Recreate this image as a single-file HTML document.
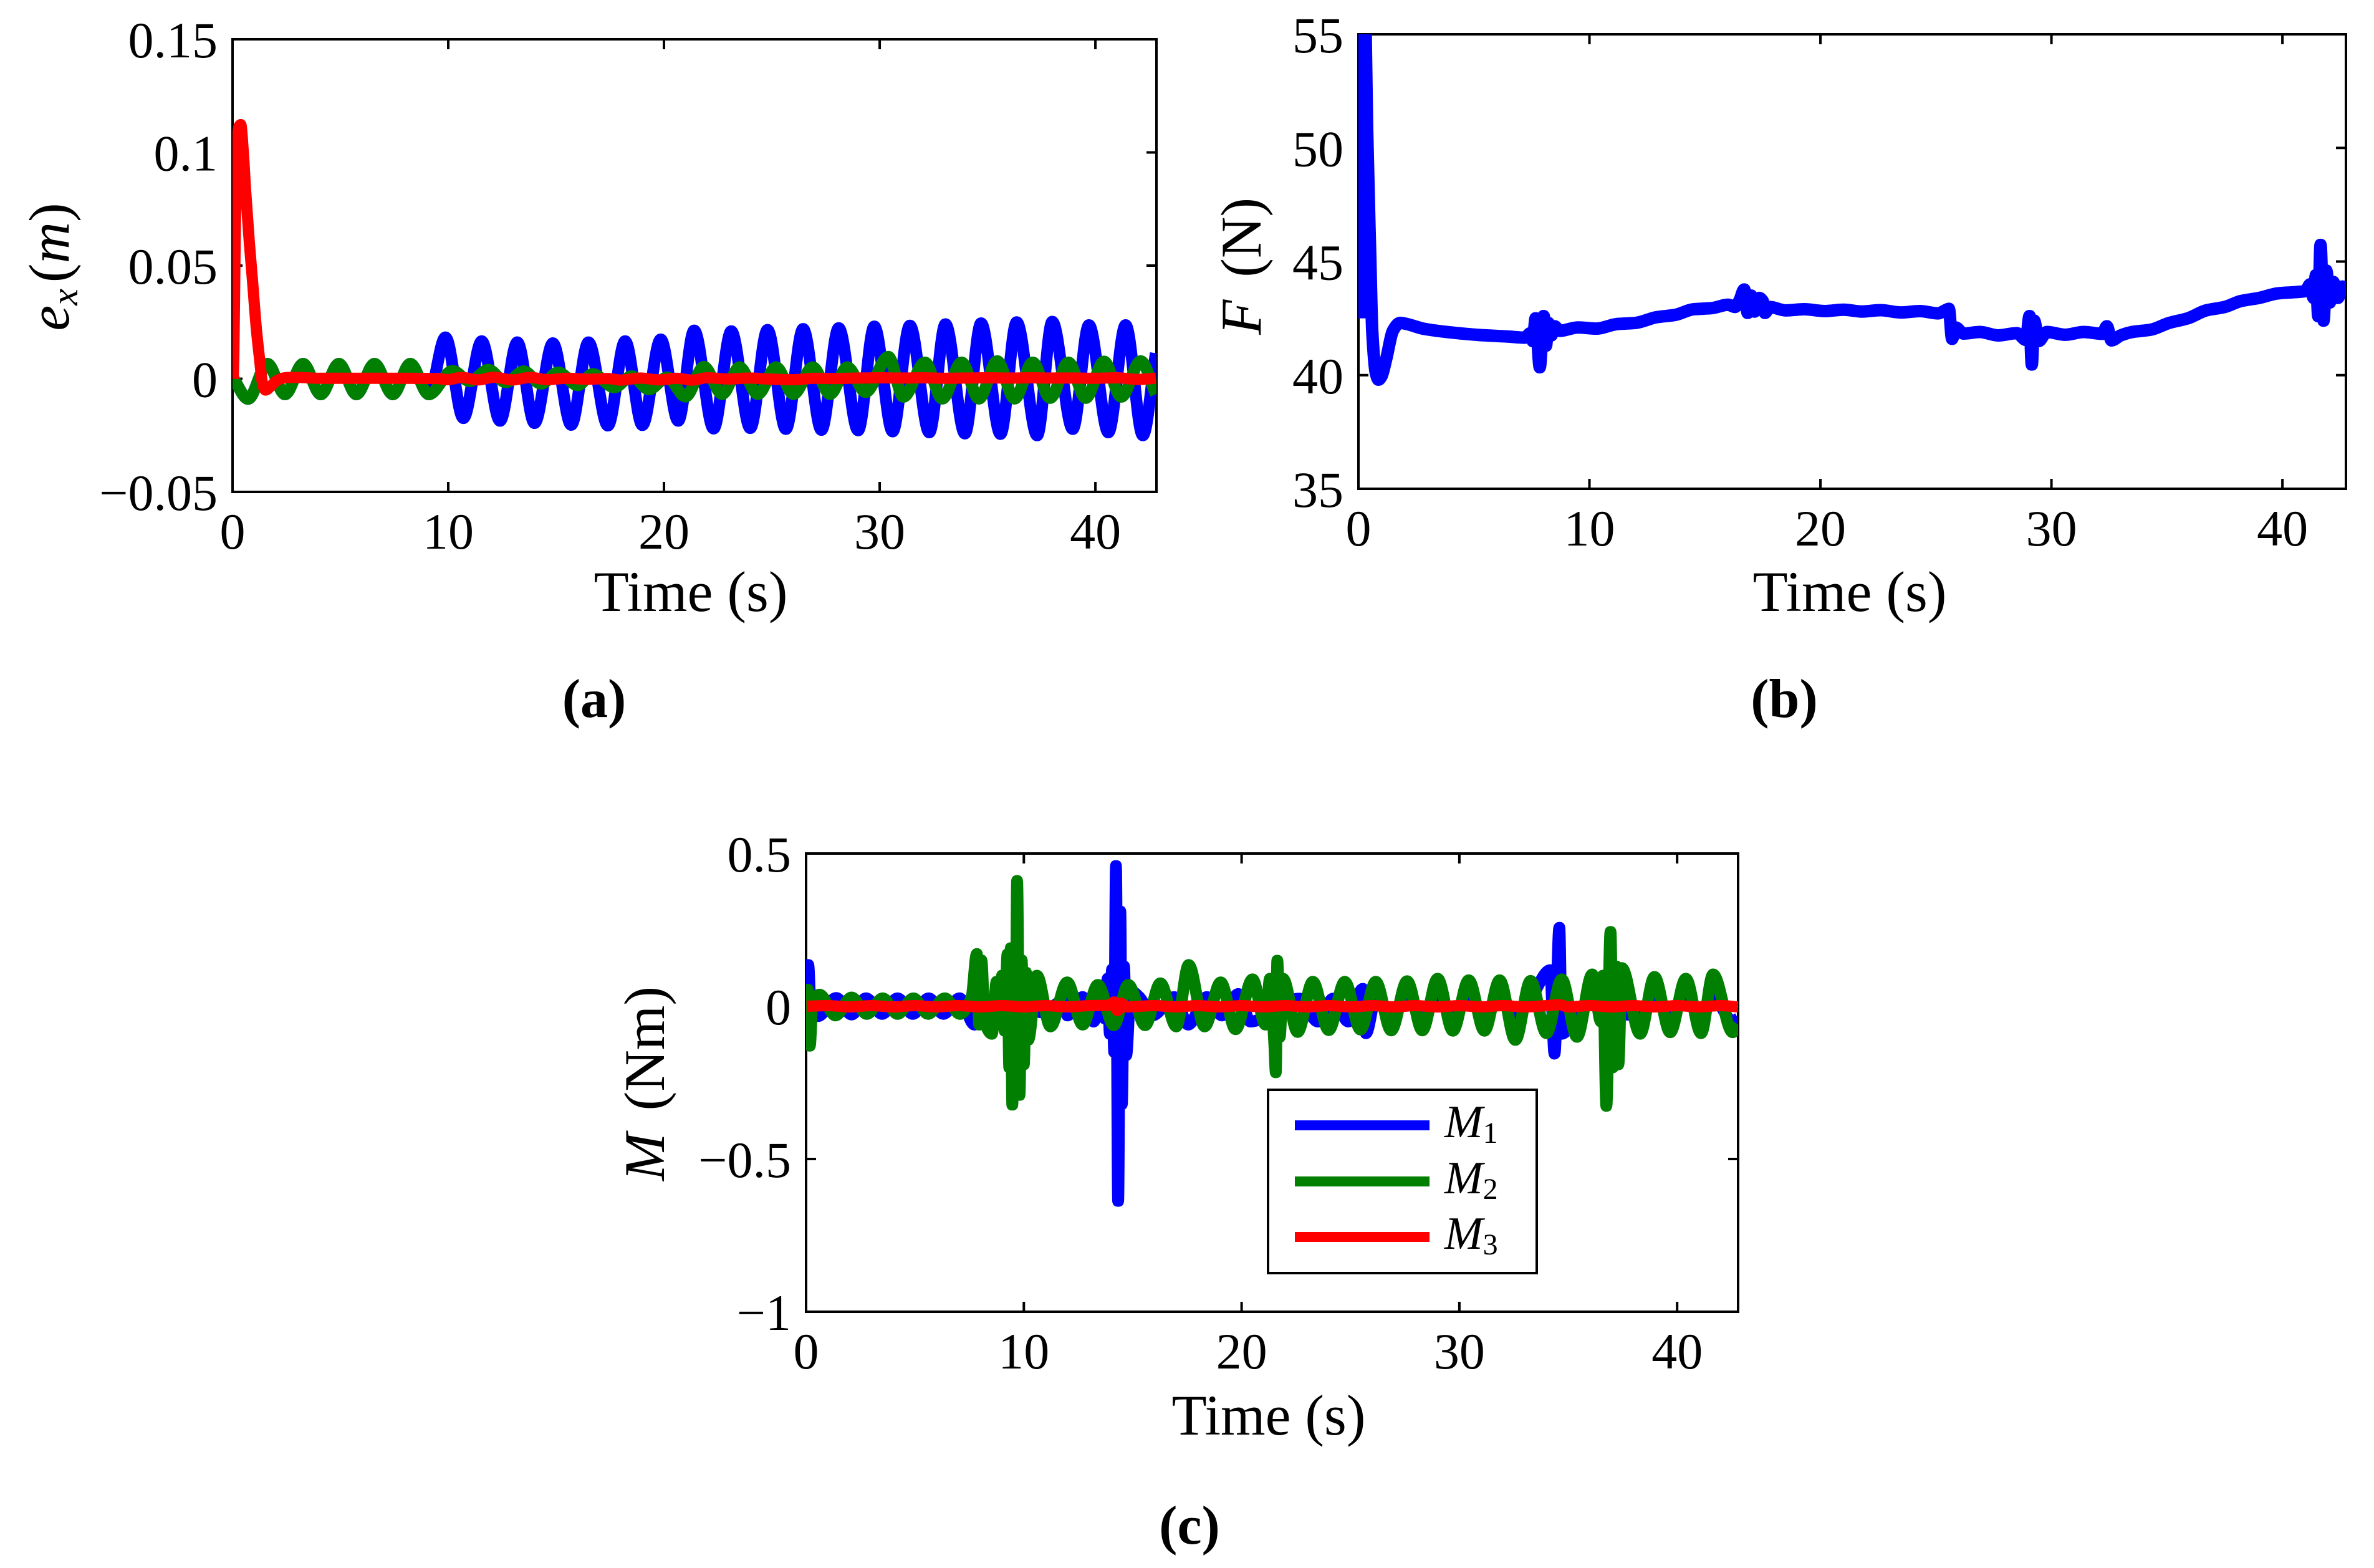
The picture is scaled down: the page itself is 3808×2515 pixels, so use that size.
<!DOCTYPE html>
<html lang="en">
<head>
<meta charset="utf-8">
<title>Simulation results</title>
<style>
html,body{margin:0;padding:0;background:#fff;}
svg{display:block;}
text{font-family:"Liberation Serif",serif;fill:#000;}
.tick{font-size:82px;}
.axis-label{font-size:92px;}
.cap{font-size:88px;font-weight:bold;}
.it{font-style:italic;}
</style>
</head>
<body>
<svg id="fig" xmlns="http://www.w3.org/2000/svg" width="3808" height="2515" viewBox="0 0 3808 2515">
<rect x="0" y="0" width="3808" height="2515" fill="#fff"/>
<defs>
<clipPath id="clip-a"><rect x="373" y="63" width="1482" height="726"/></clipPath>
<clipPath id="clip-b"><rect x="2179" y="55" width="1584" height="729"/></clipPath>
<clipPath id="clip-c"><rect x="1293" y="1369" width="1495" height="735"/></clipPath>
</defs>
<g id="panel-a"></g>
<g id="panel-b"></g>
<g id="panel-c"></g>

<text class="axis-label" x="1108" y="980" text-anchor="middle">Time (s)</text>
<text class="axis-label" x="2967" y="980" text-anchor="middle">Time (s)</text>
<text class="axis-label" x="2035" y="2301" text-anchor="middle">Time (s)</text>

<text class="axis-label" transform="translate(110,428) rotate(-90)" text-anchor="middle"><tspan class="it">e</tspan><tspan class="it" font-size="60" dy="14">x</tspan><tspan dy="-14" dx="10">(</tspan><tspan class="it">m</tspan><tspan>)</tspan></text>
<text class="axis-label" transform="translate(2022,427) rotate(-90)" text-anchor="middle"><tspan class="it">F</tspan><tspan dx="36">(N)</tspan></text>
<text class="axis-label" transform="translate(1065,1738) rotate(-90)" text-anchor="middle"><tspan class="it">M</tspan><tspan dx="36">(Nm)</tspan></text>

<text class="cap" x="953" y="1150" text-anchor="middle">(a)</text>
<text class="cap" x="2862" y="1150" text-anchor="middle">(b)</text>
<text class="cap" x="1908" y="2476" text-anchor="middle">(c)</text>

<g id="legend">
<rect x="2034" y="1748" width="431" height="294" fill="#fff" stroke="#000" stroke-width="4"/>
<line x1="2077" x2="2293" y1="1805" y2="1805" stroke="#0000ff" stroke-width="16"/>
<line x1="2077" x2="2293" y1="1895" y2="1895" stroke="#007f00" stroke-width="16"/>
<line x1="2077" x2="2293" y1="1984" y2="1984" stroke="#ff0000" stroke-width="16"/>
<text x="2317" y="1824" font-size="74"><tspan class="it">M</tspan><tspan font-size="48" dy="9">1</tspan></text>
<text x="2317" y="1914" font-size="74"><tspan class="it">M</tspan><tspan font-size="48" dy="9">2</tspan></text>
<text x="2317" y="2003" font-size="74"><tspan class="it">M</tspan><tspan font-size="48" dy="9">3</tspan></text>
</g>
</svg>

<script>
const timeTicks = [0, 10, 20, 30, 40];
const exTicks = [-0.05, 0, 0.05, 0.1, 0.15];
const exTickLabels = ["\u22120.05", "0", "0.05", "0.1", "0.15"];
const forceTicks = [35, 40, 45, 50, 55];
const forceTickLabels = ["35", "40", "45", "50", "55"];
const momentTicks = [-1, -0.5, 0, 0.5];
const momentTickLabels = ["\u22121", "\u22120.5", "0", "0.5"];

const exBlueT = [0.05,0.72,1.62,2.43,3.27,4.09,4.93,5.74,6.58,7.43,8.24,9.1,9.87,10.7,11.55,12.4,13.2,14.0,14.85,15.7,16.5,17.4,18.2,19.0,19.85,20.66,21.4,22.3,23.12,24.0,24.8,25.65,26.45,27.3,28.1,29.0,29.75,30.6,31.4,32.3,33.05,33.95,34.7,35.6,36.35,37.3,38.0,38.95,39.7,40.6,41.4,42.2,42.8];
const exBlueV = [0,-0.0089,0.0066,-0.0069,0.0066,-0.0069,0.0066,-0.0069,0.0066,-0.0069,0.0066,-0.0069,0.0183,-0.0174,0.0166,-0.0186,0.0161,-0.0196,0.0157,-0.0204,0.0161,-0.0207,0.0166,-0.0205,0.0174,-0.0186,0.0213,-0.022,0.021,-0.0218,0.0216,-0.0222,0.022,-0.0226,0.0224,-0.0228,0.0231,-0.0233,0.0235,-0.0237,0.0241,-0.0242,0.0245,-0.0244,0.025,-0.025,0.0252,-0.0222,0.0237,-0.0237,0.0237,-0.025,0.0113];

const exGreenT = [0.05,0.72,1.62,2.43,3.27,4.09,4.93,5.74,6.58,7.43,8.24,9.1,10.2,11.0,11.86,12.67,13.5,14.3,15.1,16.0,16.7,17.7,18.5,19.3,20.15,21.0,21.85,22.7,23.5,24.35,25.2,26.0,26.9,27.7,28.5,29.35,30.4,31.1,32.1,32.9,33.8,34.6,35.45,36.25,37.1,37.9,38.75,39.55,40.4,41.2,42.1,42.8];
const exGreenV = [0,-0.0089,0.0066,-0.0069,0.0066,-0.0069,0.0066,-0.0069,0.0066,-0.0069,0.0066,-0.0069,0.0035,-0.0011,0.004,-0.0016,0.0033,-0.0022,0.0028,-0.0029,0.0021,-0.0038,0.0011,-0.0047,0.0006,-0.0079,0.0053,-0.0068,0.0051,-0.0068,0.0051,-0.0068,0.0051,-0.0068,0.0051,-0.0059,0.0097,-0.008,0.0072,-0.0088,0.0072,-0.0088,0.0078,-0.0088,0.0072,-0.0085,0.0072,-0.0085,0.0076,-0.008,0.0078,-0.0068];

const exRedT = [0.03,0.06,0.12,0.2,0.3,0.38,0.5,0.6,0.78,0.92,1.1,1.25,1.39,1.53,1.75,2.0,2.3,2.6,3,4,5,6,7,8,9.5,10,10.6,11.4,12.1,13,13.8,14.6,15.5,16.5,17.4,18,18.9,19.8,20.6,21.3,22,23,24,25,26,27,28,29,30,31,32,33,34,35,36,37,38,39,40,41,42,42.8];
const exRedV = [0,0.01,0.06,0.1,0.1115,0.1123,0.1,0.084,0.06,0.044,0.0225,0.009,-0.002,-0.005,-0.0035,-0.0012,0.0002,0.0006,0.0006,0.0002,0.0002,0.0002,0.0002,0.0002,0.0001,-0.0004,0.0006,-0.0005,0.0007,-0.0005,0.0006,-0.0004,0.0002,-0.0002,0.0001,-0.0006,0.0003,-0.0005,0.0002,-0.0006,0.0004,-0.0001,0.0003,-0.0002,-0.0004,0.0002,0.0001,0.0003,0.0004,0.0003,0.0004,0.0002,0.0003,0.0004,0.0003,0.0004,0.0003,0.0003,0.0002,0.0004,-0.0003,0.0003];

const forceT = [0.05,0.08,0.13,0.2,0.3,0.375,0.51,0.6,0.75,0.87,1.0,1.2,1.5,1.8,2.1,2.83,4,5.2,6.46,7.2,7.45,7.55,7.67,7.85,8.02,8.12,8.22,8.35,8.5,8.7,9.5,10.3,11.2,12,12.9,13.7,14.5,15.3,16.0,16.3,16.5,16.7,16.85,17.0,17.15,17.35,17.5,17.6,17.8,18.5,19.3,20.2,21,21.8,22.6,23.5,24.3,25.1,25.4,25.56,25.7,25.85,26.2,26.9,27.7,28.5,28.9,29.05,29.15,29.25,29.45,29.8,30.6,31.4,32.2,32.4,32.6,33.0,33.5,34.3,35.1,35.9,36.7,37.5,38.2,39.0,39.8,40.5,41.0,41.2,41.35,41.45,41.55,41.65,41.78,41.9,42.05,42.2,42.4,42.6,42.8];
const forceV = [42.5,62,50.6,62,56,50.9,45.3,41.9,40.1,39.8,39.95,40.7,41.97,42.3,42.25,42.04,41.88,41.77,41.7,41.65,41.85,41.5,42.5,40.35,42.6,41.3,42.3,41.75,42.15,41.95,42.1,42.05,42.25,42.3,42.55,42.65,42.9,42.95,43.1,43,43.3,43.77,42.74,43.5,42.8,43.4,43.27,42.74,43.0,42.85,42.9,42.82,42.88,42.8,42.86,42.76,42.82,42.72,42.85,42.92,41.6,42.1,41.83,41.9,41.75,41.85,41.55,42.6,40.47,42.4,41.5,41.9,41.78,41.9,41.82,42.15,41.53,41.75,41.9,42.0,42.3,42.5,42.85,43.0,43.26,43.4,43.6,43.65,43.7,44.0,43.4,44.4,42.6,45.73,42.4,44.6,43.2,44.1,43.4,43.9,43.6];

const m1T = [0.03,0.1,0.22,0.55,1.38,2.09,2.75,3.49,4.2,4.9,5.63,6.3,7.05,7.73,8.5,9.5,10,10.8,11.9,12,12.7,13.2,13.6,13.72,13.85,13.95,14.05,14.15,14.23,14.33,14.43,14.5,14.6,14.7,14.9,15.3,15.9,16.9,17.55,18.4,19.1,19.85,20.4,22.65,23.5,24.2,24.9,25.56,25.71,26.16,26.87,27.6,28.3,29,29.7,30.43,31.15,31.85,32.57,33.27,34.17,34.37,34.59,34.7,35.4,36.1,37.1,38.3,38.96,39.68,40.4,41.1,41.65,42.55,42.8];
const m1V = [0,0.135,-0.03,-0.032,0.027,-0.027,0.026,-0.025,0.026,-0.025,0.026,-0.025,0.026,-0.06,0.02,-0.02,0.02,-0.02,0.02,-0.03,0.03,-0.05,0.04,-0.04,0.09,-0.09,0.12,-0.15,0.459,-0.637,0.31,-0.32,0.13,-0.16,0.05,0.03,-0.03,0.03,-0.06,0.03,-0.03,0.04,-0.05,0.025,-0.05,0.025,-0.05,0.057,-0.088,0.026,-0.024,0.026,-0.024,0.026,-0.024,0.026,-0.024,0.026,-0.024,0.026,0.118,-0.155,0.257,-0.09,-0.03,0.03,-0.02,-0.03,0.03,-0.03,0.03,-0.03,0.03,-0.05,-0.04];

const m2T = [0.03,0.08,0.17,0.3,0.62,1.35,2.09,2.79,3.52,4.2,4.93,5.6,6.37,7.07,7.6,7.84,7.95,8.05,8.2,8.53,8.75,8.9,9.0,9.12,9.25,9.33,9.4,9.47,9.55,9.62,9.69,9.8,9.9,10.0,10.1,10.2,10.6,11.22,11.99,12.7,13.4,14.13,14.8,15.57,16.27,17,17.57,18.3,19.04,19.72,20.5,21.1,21.3,21.5,21.57,21.64,21.75,21.9,22.57,23.27,24.0,24.74,25.46,26.16,26.87,27.6,28.3,29.0,29.7,30.43,31.15,31.85,32.57,33.27,34.0,34.7,35.4,36.1,36.5,36.6,36.75,36.94,37.05,37.2,37.3,37.46,38.3,38.96,39.68,40.4,41.1,41.65,42.55,42.8];
const m2V = [0,0.054,-0.129,0.02,0.038,-0.03,0.0286,-0.025,0.026,-0.025,0.026,-0.025,0.026,-0.025,0.03,0.171,-0.06,0.15,-0.05,-0.09,0.08,-0.04,0.1,-0.08,0.17,-0.2,0.19,-0.322,0.19,-0.2,0.41,-0.29,0.15,-0.19,0.11,-0.11,0.1,-0.066,0.078,-0.06,0.07,-0.062,0.07,-0.062,0.075,-0.066,0.135,-0.066,0.078,-0.075,0.088,-0.06,0.09,-0.12,-0.216,0.149,-0.1,0.09,-0.084,0.08,-0.078,0.08,-0.076,0.08,-0.079,0.082,-0.079,0.09,-0.08,0.085,-0.08,0.085,-0.11,0.083,-0.088,0.088,-0.1,0.104,-0.05,0.1,-0.326,0.243,-0.2,0.13,-0.19,0.125,-0.09,0.096,-0.085,0.09,-0.088,0.104,-0.085,-0.06];

const m3T = [0.03,1,2,3,4,5,6,7,8,9,10,11,12,13,13.9,14.15,14.3,14.45,14.7,16,17,18,19,20,21,22,23,24,25,26,27,28,29,30,31,32,33,34,34.6,35,36,37,38,39,40,41,42,42.8];
const m3V = [0,0.002,-0.002,0.002,-0.002,0.002,-0.002,0.002,-0.002,0.002,-0.002,0.002,-0.002,0.002,0.003,0.014,-0.014,0.01,-0.002,0.002,-0.002,0.002,-0.002,0.002,-0.002,0.002,-0.002,0.002,-0.002,0.002,-0.002,0.002,-0.002,0.002,-0.002,0.002,-0.002,0.002,0.005,-0.002,0.002,-0.002,0.002,-0.002,0.002,-0.002,0.002,-0.002];

const SVGNS = "http://www.w3.org/2000/svg";

function linear(d0, d1, r0, r1) {
  return function (v) { return r0 + (v - d0) * (r1 - r0) / (d1 - d0); };
}

function curvePath(ts, vs, sx, sy) {
  const xs = ts.map(sx);
  const ys = vs.map(sy);
  const n = xs.length;
  const d = [];
  for (let i = 0; i < n - 1; i++) d.push((ys[i + 1] - ys[i]) / (xs[i + 1] - xs[i]));
  const m = [d[0]];
  for (let i = 1; i < n - 1; i++) {
    m.push(d[i - 1] * d[i] <= 0 ? 0 : 2 * d[i - 1] * d[i] / (d[i - 1] + d[i]));
  }
  m.push(d[n - 2]);
  let p = "M" + xs[0].toFixed(2) + " " + ys[0].toFixed(2);
  for (let i = 0; i < n - 1; i++) {
    const h = (xs[i + 1] - xs[i]) / 3;
    p += "C" + (xs[i] + h).toFixed(2) + " " + (ys[i] + m[i] * h).toFixed(2) + " " +
      (xs[i + 1] - h).toFixed(2) + " " + (ys[i + 1] - m[i + 1] * h).toFixed(2) + " " +
      xs[i + 1].toFixed(2) + " " + ys[i + 1].toFixed(2);
  }
  return p;
}

function drawFrame(host, box, xTicks, yTicks, yLabels, sx, sy) {
  const frame = document.createElementNS(SVGNS, "rect");
  
  
  frame.setAttribute("x", box.l);
  frame.setAttribute("y", box.t);
  frame.setAttribute("width", box.r - box.l);
  frame.setAttribute("height", box.b - box.t);
  frame.setAttribute("fill", "none");
  frame.setAttribute("stroke", "#000");
  frame.setAttribute("stroke-width", "4");
  host.appendChild(frame);

  xTicks.forEach(function (tv) {
    const x = sx(tv);
    [[box.b, box.b - 16], [box.t, box.t + 16]].forEach(function (pair) {
      const tk = document.createElementNS(SVGNS, "line");
      
      
      tk.setAttribute("x1", x);
      tk.setAttribute("x2", x);
      tk.setAttribute("y1", pair[0]);
      tk.setAttribute("y2", pair[1]);
      tk.setAttribute("stroke", "#000");
      tk.setAttribute("stroke-width", "4");
      host.appendChild(tk);
    });
    const lb = document.createElementNS(SVGNS, "text");
    
    
    lb.setAttribute("class", "tick");
    lb.setAttribute("x", x);
    lb.setAttribute("y", box.b + 91);
    lb.setAttribute("text-anchor", "middle");
    lb.textContent = String(tv);
    host.appendChild(lb);
  });

  yTicks.forEach(function (tv, i) {
    const y = sy(tv);
    [[box.l, box.l + 16], [box.r, box.r - 16]].forEach(function (pair) {
      const tk = document.createElementNS(SVGNS, "line");
      
      
      tk.setAttribute("x1", pair[0]);
      tk.setAttribute("x2", pair[1]);
      tk.setAttribute("y1", y);
      tk.setAttribute("y2", y);
      tk.setAttribute("stroke", "#000");
      tk.setAttribute("stroke-width", "4");
      host.appendChild(tk);
    });
    const lb = document.createElementNS(SVGNS, "text");
    
    
    lb.setAttribute("class", "tick");
    lb.setAttribute("x", box.l - 24);
    lb.setAttribute("y", y + 29);
    lb.setAttribute("text-anchor", "end");
    lb.textContent = yLabels[i];
    host.appendChild(lb);
  });
}

function addSeries(host, clipId, d, color, width) {
  const path = document.createElementNS(SVGNS, "path");
  path.setAttribute("d", d);
  path.setAttribute("fill", "none");
  path.setAttribute("stroke", color);
  path.setAttribute("stroke-width", width);
  path.setAttribute("stroke-linejoin", "round");
  path.setAttribute("clip-path", "url(#" + clipId + ")");
  host.appendChild(path);
  return path;
}

/* panel a */
const boxA = { l: 373, r: 1855, t: 63, b: 789 };
const xA = linear(0, 42.83, boxA.l, boxA.r);
const yA = linear(-0.05, 0.15, boxA.b, boxA.t);
const hostA = document.getElementById("panel-a");
drawFrame(hostA, boxA, timeTicks, exTicks, exTickLabels, xA, yA);
const lineAB = addSeries(hostA, "clip-a", curvePath(exBlueT, exBlueV, xA, yA), "#0000ff", 19);


const lineAG = addSeries(hostA, "clip-a", curvePath(exGreenT, exGreenV, xA, yA), "#007f00", 19);


const lineAR = addSeries(hostA, "clip-a", curvePath(exRedT, exRedV, xA, yA), "#ff0000", 18);



/* panel b */
const boxB = { l: 2179, r: 3763, t: 55, b: 784 };
const xB = linear(0, 42.75, boxB.l, boxB.r);
const yB = linear(35, 55, boxB.b, boxB.t);
const hostB = document.getElementById("panel-b");
drawFrame(hostB, boxB, timeTicks, forceTicks, forceTickLabels, xB, yB);
const lineF = addSeries(hostB, "clip-b", curvePath(forceT, forceV, xB, yB), "#0000ff", 20);



/* panel c */
const boxC = { l: 1293, r: 2788, t: 1369, b: 2104 };
const xC = linear(0, 42.8, boxC.l, boxC.r);
const yC = linear(-1, 0.5, boxC.b, boxC.t);
const hostC = document.getElementById("panel-c");
drawFrame(hostC, boxC, timeTicks, momentTicks, momentTickLabels, xC, yC);
const lineM1 = addSeries(hostC, "clip-c", curvePath(m1T, m1V, xC, yC), "#0000ff", 19);


const lineM2 = addSeries(hostC, "clip-c", curvePath(m2T, m2V, xC, yC), "#007f00", 19);


const lineM3 = addSeries(hostC, "clip-c", curvePath(m3T, m3V, xC, yC), "#ff0000", 18);


</script>
</body>
</html>
